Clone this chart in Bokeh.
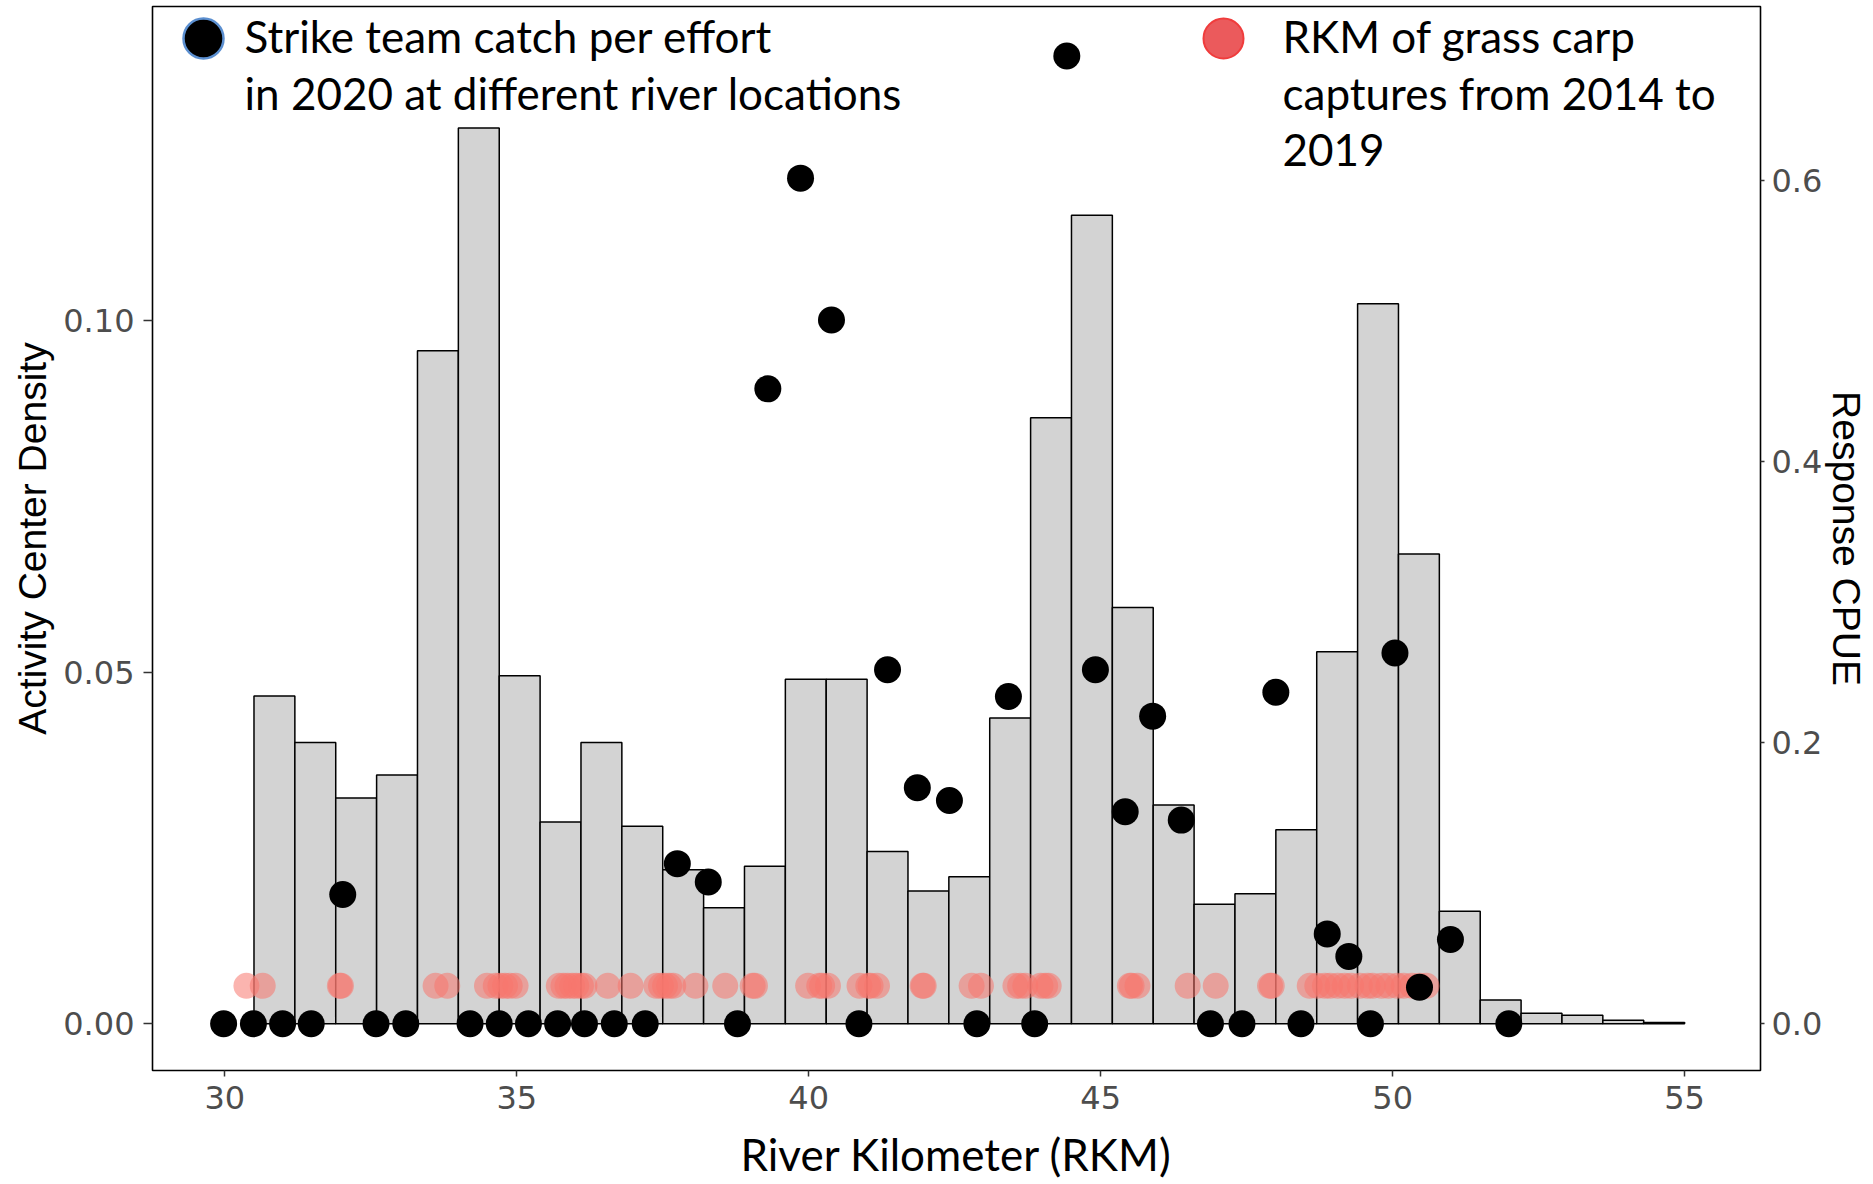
from bokeh.plotting import figure
from bokeh.models import (Range1d, LinearAxis, FixedTicker, NumeralTickFormatter,
                          ColumnDataSource, Label, Legend, LegendItem)
from bokeh.embed import file_html
from bokeh.resources import INLINE

# Histogram of activity-centre density along the river (0.7 km bins)
bin_start = 30.5
bin_width = 0.7
density = [0.0466, 0.0400, 0.0321, 0.0354, 0.0957, 0.1274, 0.0495, 0.0287, 0.0400,
           0.0281, 0.0219, 0.0165, 0.0224, 0.0490, 0.0490, 0.0245, 0.0189, 0.0209,
           0.0435, 0.0862, 0.1150, 0.0592, 0.0311, 0.0170, 0.0185, 0.0276, 0.0529,
           0.1024, 0.0668, 0.0160, 0.0034, 0.0015, 0.0012, 0.0005, 0.0002]

# Strike team catch per unit effort in 2020 (river km, CPUE)
cpue_rkm = [29.98, 30.49, 30.99, 31.48, 32.02, 32.59, 33.10, 34.20, 34.70, 35.20,
            35.70, 36.16, 36.67, 37.20, 37.75, 38.28, 38.78, 39.30, 39.86, 40.39,
            40.86, 41.35, 41.86, 42.41, 42.88, 43.42, 43.87, 44.42, 44.91, 45.42,
            45.89, 46.38, 46.88, 47.42, 48.00, 48.43, 48.88, 49.25, 49.62, 50.04,
            50.46, 50.99, 51.99]
cpue = [0.0, 0.0, 0.0, 0.0, 0.092, 0.0, 0.0, 0.0, 0.0, 0.0,
        0.0, 0.0, 0.0, 0.0, 0.114, 0.101, 0.0, 0.452, 0.602, 0.501,
        0.0, 0.252, 0.168, 0.159, 0.0, 0.233, 0.0, 0.689, 0.252, 0.151,
        0.219, 0.145, 0.0, 0.0, 0.236, 0.0, 0.064, 0.048, 0.0, 0.264,
        0.026, 0.060, 0.0]

# Grass carp capture locations 2014-2019 (river km)
capture_rkm = [30.37, 30.65, 31.97, 31.99, 33.61, 33.81, 34.49, 34.64, 34.72, 34.80,
               34.88, 34.98, 35.72, 35.80, 35.87, 35.95, 36.02, 36.10, 36.16, 36.56,
               36.95, 37.39, 37.47, 37.54, 37.61, 37.68, 38.06, 38.57, 39.04, 39.08,
               39.99, 40.18, 40.23, 40.33, 40.87, 41.02, 41.06, 41.17, 41.95, 41.97,
               42.79, 42.95, 43.54, 43.62, 43.71, 43.97, 44.05, 44.11, 45.50, 45.53,
               45.63, 46.49, 46.97, 47.90, 47.93, 48.58, 48.71, 48.84, 48.93, 49.06,
               49.18, 49.29, 49.44, 49.57, 49.66, 49.81, 49.93, 50.08, 50.19, 50.33,
               50.46, 50.58]
capture_level = 0.0054

x_ticks = [30, 35, 40, 45, 50, 55]
density_ticks = [0.0, 0.05, 0.10]
cpue_ticks = [0.0, 0.2, 0.4, 0.6]

legend_black_lines = ["Strike team catch per effort",
                      "in 2020 at different river locations"]
legend_red_lines = ["RKM of grass carp", "captures from 2014 to", "2019"]

TICK_FONT = "DejaVu Sans"
TITLE_FONT = "Liberation Sans"
NOTE_FONT = "Lato"

p = figure(width=1873, height=1184,
           x_range=Range1d(28.762, 56.30), y_range=Range1d(-0.00664, 0.14467),
           output_backend="svg", toolbar_location=None,
           min_border_left=152, min_border_right=113,
           min_border_top=6, min_border_bottom=114,
           x_axis_label="River Kilometer (RKM)",
           y_axis_label="Activity Center Density")
p.extra_y_ranges = {"cpue": Range1d(-0.03324, 0.7242)}

p.xgrid.visible = False
p.ygrid.visible = False
p.background_fill_color = "white"
p.border_fill_color = "white"
p.outline_line_color = "black"
p.outline_line_width = 1.6

# histogram bars
lefts = [bin_start + i * bin_width for i in range(len(density))]
rights = [l + bin_width for l in lefts]
bars = ColumnDataSource(dict(left=lefts, right=rights, top=density,
                             bottom=[0.0] * len(density)))
p.quad(left="left", right="right", top="top", bottom="bottom", source=bars,
       fill_color="#D3D3D3", line_color="black", line_width=1.5)

# capture locations
caps = ColumnDataSource(dict(x=capture_rkm, y=[capture_level] * len(capture_rkm)))
p.scatter("x", "y", source=caps, size=26, fill_color="#F8766D", fill_alpha=0.55,
          line_color=None)

# CPUE points on the secondary axis
pts = ColumnDataSource(dict(x=cpue_rkm, y=cpue))
p.scatter("x", "y", source=pts, size=27, fill_color="black", line_color=None,
          y_range_name="cpue")

# axes
xa = p.xaxis[0]
xa.ticker = FixedTicker(ticks=x_ticks)
ya = p.yaxis[0]
ya.ticker = FixedTicker(ticks=density_ticks)
ya.formatter = NumeralTickFormatter(format="0.00")

ra = LinearAxis(y_range_name="cpue", axis_label="Response CPUE",
                ticker=FixedTicker(ticks=cpue_ticks),
                formatter=NumeralTickFormatter(format="0.0"))
p.add_layout(ra, "right")

for ax in (xa, ya, ra):
    ax.axis_line_color = None
    ax.major_tick_line_color = "#333333"
    ax.major_tick_line_width = 1.5
    ax.major_tick_in = 0
    ax.minor_tick_line_color = None
    ax.major_label_text_font = TICK_FONT
    ax.major_label_text_font_size = "32px"
    ax.major_label_text_color = "#4D4D4D"
    ax.axis_label_text_font_style = "normal"
    ax.axis_label_text_color = "black"

xa.major_tick_out = 6
xa.major_label_standoff = 9
xa.axis_label_text_font = NOTE_FONT
xa.axis_label_text_font_size = "44px"
xa.axis_label_standoff = 16

ya.major_tick_out = 9
ya.major_label_standoff = 9
ya.axis_label_text_font = TITLE_FONT
ya.axis_label_text_font_size = "39px"
ya.axis_label_standoff = 6

ra.major_tick_out = 4
ra.major_label_standoff = 7
ra.axis_label_text_font = TITLE_FONT
ra.axis_label_text_font_size = "39px"
ra.axis_label_standoff = 0

# legend keys (proxy renderers whose only point is not drawn in the frame)
nan = float("nan")
key_black = p.scatter(x=[nan], y=[nan], size=40, fill_color="black",
                      line_color="#5B8FD0", line_width=2.5)
key_red = p.scatter(x=[nan], y=[nan], size=40, fill_color="#EB5A5C",
                    line_color="#F03C3C", line_width=2)
for key, loc in ((key_black, (1, 982)), (key_red, (1021, 982))):
    leg = Legend(items=[LegendItem(label=" ", renderers=[key])], location=loc,
                 glyph_width=100, glyph_height=100, padding=0, margin=0,
                 spacing=0, label_standoff=0, label_width=1, label_height=1,
                 background_fill_alpha=0, border_line_alpha=0,
                 label_text_font_size="2px")
    p.add_layout(leg)

# legend texts
for lines, x0 in ((legend_black_lines, 92), (legend_red_lines, 1130)):
    for i, line in enumerate(lines):
        p.add_layout(Label(x=x0, y=1035 - 57 * i, x_units="screen", y_units="screen",
                           text=line, text_font=NOTE_FONT, text_font_size="44px",
                           text_color="black", text_baseline="middle",
                           text_align="left"))

open("out.html", "w").write(file_html(p, INLINE))
